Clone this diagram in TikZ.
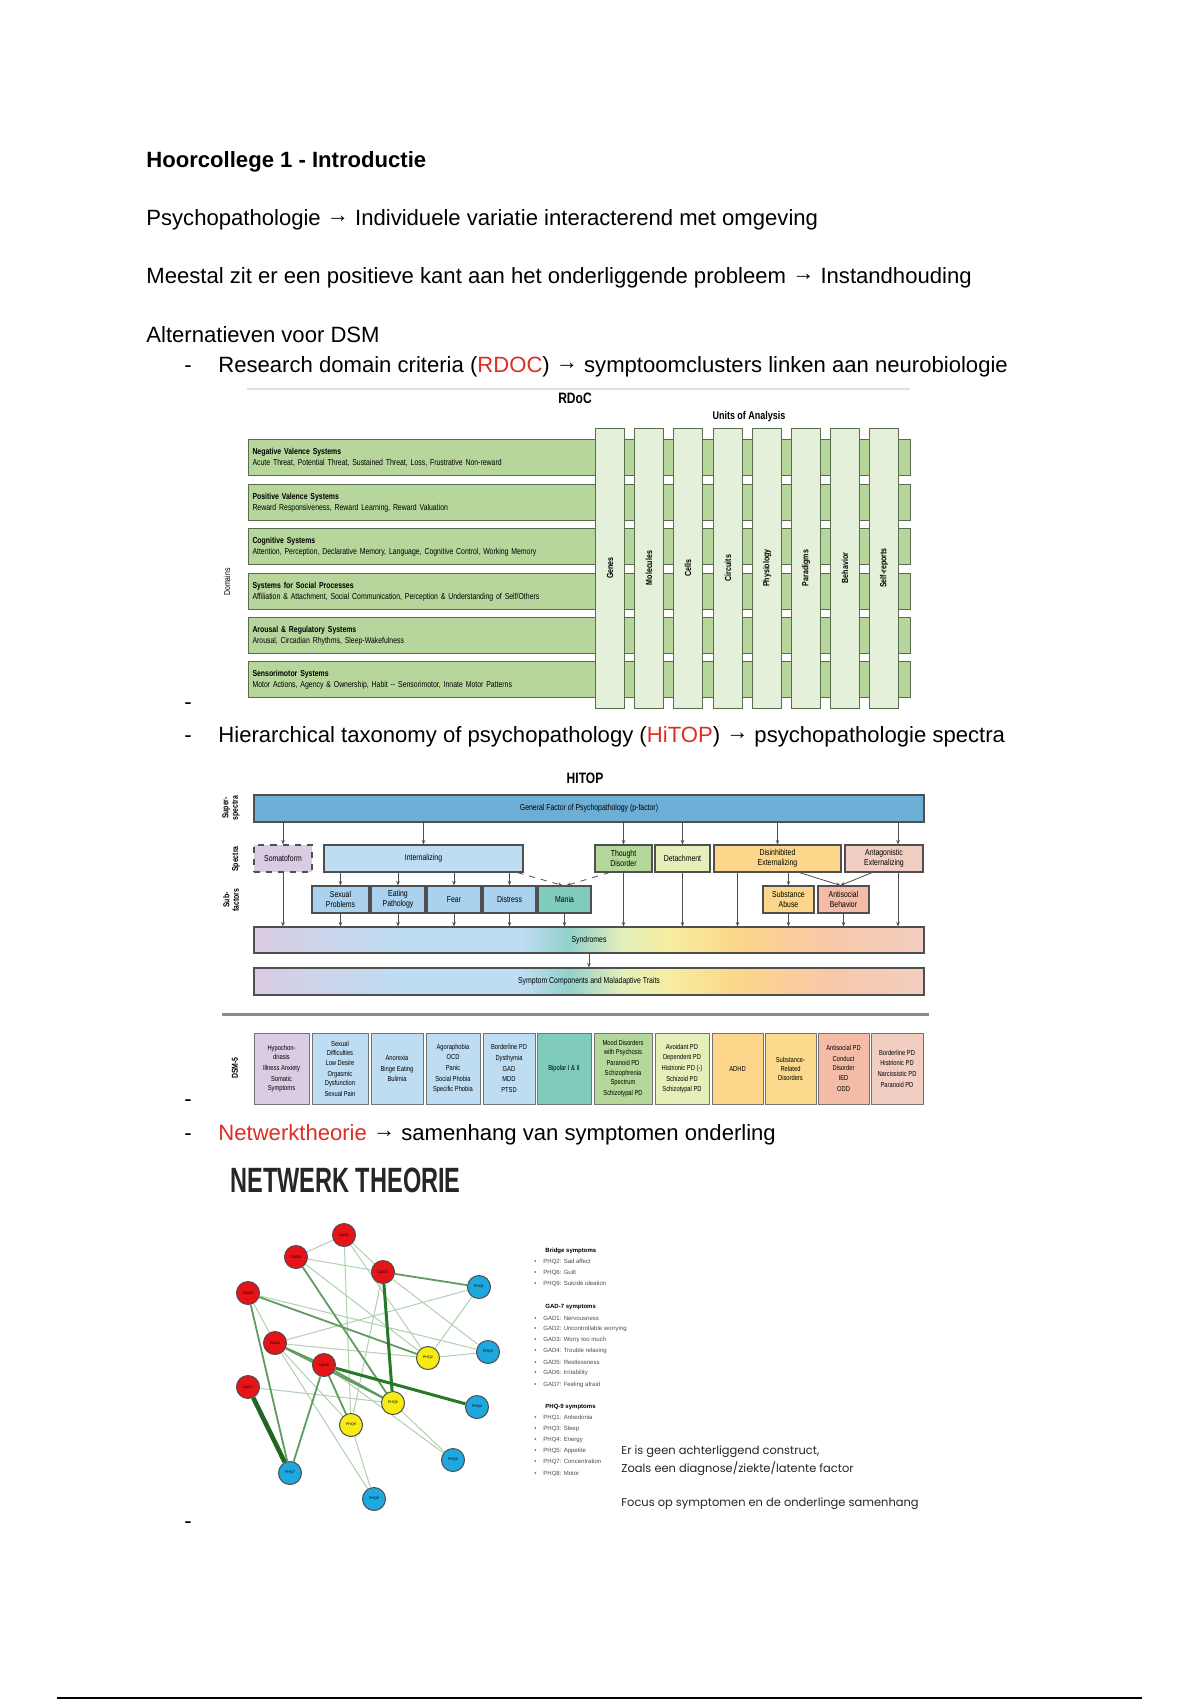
\documentclass[tikz,border=0pt]{standalone}
\usepackage{fontspec}
\setmainfont{Liberation Sans}
\newfontfamily\narrowfont[FakeStretch=0.8]{Liberation Sans}
\newfontfamily\titlefont[FakeStretch=0.67]{Liberation Sans}
\newfontfamily\roundfont{Poppins}
\usepackage{tikz}
\usetikzlibrary{positioning, shapes, arrows.meta, backgrounds}

\newcommand{\pxu}{0.0175cm}
\newcommand{\legdot}{\makebox[4.5pt][l]{\textbullet}}
\newcommand{\toarrow}{\raisebox{1.4pt}{→}}
\definecolor{textred}{RGB}{222,45,38}
\definecolor{rdocbar}{RGB}{182,214,156}
\definecolor{rdoccol}{RGB}{228,240,218}
\definecolor{rdocline}{RGB}{88,108,80}
\definecolor{hline}{RGB}{80,80,80}
\definecolor{hgen}{RGB}{108,174,214}
\definecolor{hlav}{RGB}{217,204,227}
\definecolor{hblue}{RGB}{190,221,242}
\definecolor{hsub}{RGB}{170,210,238}
\definecolor{hteal}{RGB}{128,204,186}
\definecolor{hgreen}{RGB}{180,216,154}
\definecolor{hlime}{RGB}{228,239,186}
\definecolor{hyellow}{RGB}{246,238,160}
\definecolor{horange}{RGB}{252,214,138}
\definecolor{hpeach}{RGB}{248,200,168}
\definecolor{hpink}{RGB}{242,206,194}
\definecolor{hsalmon}{RGB}{244,188,166}
\definecolor{netred}{RGB}{230,20,24}
\definecolor{netblue}{RGB}{30,168,224}
\definecolor{netyellow}{RGB}{246,236,20}
\definecolor{tiedark}{RGB}{40,120,40}
\definecolor{tiemid}{RGB}{96,156,96}
\definecolor{tielight}{RGB}{176,208,176}
\pgfdeclarehorizontalshading{hitopgrad}{100bp}{color(0bp)=(hlav); color(25bp)=(hlav); color(36bp)=(hblue); color(45bp)=(hblue); color(48.5bp)=(hteal!70!hblue); color(52.5bp)=(hlime); color(56bp)=(hyellow); color(61bp)=(horange); color(68bp)=(hpeach); color(75bp)=(hpink); color(100bp)=(hpink)}

\begin{document}
\begin{tikzpicture}[x=0.0175cm, y=-0.0175cm,
  body/.style={anchor=base west, inner sep=0, font=\fontsize{11}{13}\selectfont},
  domainbar/.style={draw=rdocline, fill=rdocbar, line width=0.5pt, anchor=north west, minimum height=36*\pxu, text width=654*\pxu, inner xsep=4*\pxu, inner ysep=0, align=left, font=\narrowfont\fontsize{4.3}{5.4}\selectfont},
  unitcol/.style={draw=rdocline, fill=rdoccol, line width=0.5pt, rotate=90, minimum width=280*\pxu, minimum height=29*\pxu, inner sep=0, font=\narrowfont\bfseries\fontsize{4.4}{5}\selectfont},
  hibox/.style={draw=hline, line width=0.6pt, minimum height=27*\pxu, inner sep=0, align=center, font=\narrowfont\fontsize{4.3}{5}\selectfont},
  harr/.style={-{Stealth[length=2.2pt, width=1.8pt]}, draw=hline, line width=0.4pt},
  dsmbox/.style={draw=hline!80, line width=0.5pt, minimum height=71*\pxu, inner sep=0, align=center, font=\narrowfont\fontsize{3.6}{4.5}\selectfont},
  rowlabel/.style={rotate=90, align=center, inner sep=0, font=\narrowfont\bfseries\fontsize{4.3}{4.8}\selectfont},
  gadnode/.style={circle, draw=black!70, line width=0.5pt, fill=netred, minimum size=23*\pxu, inner sep=0, font=\fontsize{1.8}{2}\selectfont},
  phqnode/.style={gadnode, fill=netblue},
  bridgenode/.style={gadnode, fill=netyellow},
  tiethin/.style={draw=tielight, line width=0.5pt},
  tiemed/.style={draw=tiemid, line width=0.9pt},
  tiethick/.style={draw=tiedark, line width=1.5pt},
  tieheavy/.style={draw=tiedark!85!black, line width=2.3pt},
  legtitle/.style={anchor=west, inner sep=0, font=\bfseries\fontsize{3}{3.5}\selectfont},
  legitem/.style={anchor=west, inner sep=0, text=black!70, font=\fontsize{3}{3.5}\selectfont},
  quoteline/.style={anchor=base west, inner sep=0, text=black!85, font=\roundfont\fontsize{5.7}{6.5}\selectfont}]

\useasboundingbox (0,0) rectangle (1200,1700);
\begin{pgfonlayer}{background}
\fill[white] (0,0) rectangle (1200,1700);
\end{pgfonlayer}

% text
\node[body, font=\bfseries\fontsize{11}{13}\selectfont] (title) at (146,167) {Hoorcollege 1 - Introductie};
\node[body] (psy) at (146,225) {Psychopathologie \toarrow{} Individuele variatie interacterend met omgeving};
\node[body] (meestal) at (146,283) {Meestal zit er een positieve kant aan het onderliggende probleem \toarrow{} Instandhouding};
\node[body] (alt) at (146,342) {Alternatieven voor DSM};
\node[body] (dash1) at (184,372) {-};
\node[body] (rdocitem) at (218,372) {Research domain criteria (\textcolor{textred}{RDOC}) \toarrow{} symptoomclusters linken aan neurobiologie};
\node[body] (dash2) at (184,709) {-};
\node[body] (dash3) at (184,742) {-};
\node[body] (hitopitem) at (218,742) {Hierarchical taxonomy of psychopathology (\textcolor{textred}{HiTOP}) \toarrow{} psychopathologie spectra};
\node[body] (dash4) at (184,1106) {-};
\node[body] (dash5) at (184,1140) {-};
\node[body] (netitem) at (218,1140) {\textcolor{textred}{Netwerktheorie} \toarrow{} samenhang van symptomen onderling};
\node[body] (dash6) at (184,1528) {-};

% RDoC
\draw[black!12, line width=1pt] (247,389) -- (910,389);
\node[font=\narrowfont\bfseries\fontsize{7.5}{9}\selectfont] (rdoc) at (575,398) {RDoC};
\node[font=\narrowfont\bfseries\fontsize{5.6}{7}\selectfont] (units) at (749,417) {Units of Analysis};
\node[rowlabel, font=\narrowfont\fontsize{4.3}{5}\selectfont] (domains) at (227,582) {Domains};
\node[domainbar] (neg) at (248,439) {{\bfseries Negative Valence Systems}\\Acute Threat, Potential Threat, Sustained Threat, Loss, Frustrative Non-reward};
\node[domainbar] (pos) at (248,484) {{\bfseries Positive Valence Systems}\\Reward Responsiveness, Reward Learning, Reward Valuation};
\node[domainbar] (cog) at (248,528) {{\bfseries Cognitive Systems}\\Attention, Perception, Declarative Memory, Language, Cognitive Control, Working Memory};
\node[domainbar] (soc) at (248,573) {{\bfseries Systems for Social Processes}\\Affiliation \& Attachment, Social Communication, Perception \& Understanding of Self/Others};
\node[domainbar] (aro) at (248,617) {{\bfseries Arousal \& Regulatory Systems}\\Arousal, Circadian Rhythms, Sleep-Wakefulness};
\node[domainbar] (sen) at (248,661) {{\bfseries Sensorimotor Systems}\\Motor Actions, Agency \& Ownership, Habit -- Sensorimotor, Innate Motor Patterns};
\node[unitcol] (genes) at (610,568) {Genes};
\node[unitcol] (molecules) at (649,568) {Molecules};
\node[unitcol] (cells) at (688,568) {Cells};
\node[unitcol] (circuits) at (728,568) {Circuits};
\node[unitcol] (physiology) at (767,568) {Physiology};
\node[unitcol] (paradigms) at (806,568) {Paradigms};
\node[unitcol] (behavior) at (845,568) {Behavior};
\node[unitcol] (selfreports) at (884,568) {Self-reports};

% HiTOP
\node[font=\narrowfont\bfseries\fontsize{7.5}{9}\selectfont] (hitop) at (585,778) {HITOP};
\node[rowlabel] (lsuper) at (231,808) {Super-\\spectra};
\node[rowlabel] (lspectra) at (236,859) {Spectra};
\node[rowlabel] (lsub) at (231,900) {Sub-\\factors};
\node[hibox, fill=hgen, minimum width=670*\pxu] (gen) at (589,808.5) {General Factor of Psychopathology (p-factor)};
\node[hibox, fill=hlav, dashed, line width=0.8pt, minimum width=58*\pxu] (som) at (283,858.5) {Somatoform};
\node[hibox, fill=hblue, minimum width=199*\pxu] (intl) at (423.5,858.5) {Internalizing};
\node[hibox, fill=hgreen, minimum width=57*\pxu] (thought) at (623.5,858.5) {Thought\\Disorder};
\node[hibox, fill=hlime, minimum width=55*\pxu] (detach) at (682.5,858.5) {Detachment};
\node[hibox, fill=horange, minimum width=127*\pxu] (disinh) at (777.5,858.5) {Disinhibited\\Externalizing};
\node[hibox, fill=hpink, minimum width=78*\pxu] (antag) at (884,858.5) {Antagonistic\\Externalizing};
\node[hibox, fill=hsub, minimum width=57*\pxu] (sexual) at (340.5,899.5) {Sexual\\Problems};
\node[hibox, fill=hsub, minimum width=54*\pxu] (eating) at (398,899.5) {Eating\\Pathology};
\node[hibox, fill=hsub, minimum width=54*\pxu] (fear) at (454,899.5) {Fear};
\node[hibox, fill=hsub, minimum width=53*\pxu] (distress) at (509.5,899.5) {Distress};
\node[hibox, fill=hteal, minimum width=53*\pxu] (mania) at (564.5,899.5) {Mania};
\node[hibox, fill=horange, minimum width=51*\pxu] (subst) at (788.5,899.5) {Substance\\Abuse};
\node[hibox, fill=hsalmon, minimum width=51*\pxu] (antis) at (843.5,899.5) {Antisocial\\Behavior};
\node[hibox, shade, shading=hitopgrad, minimum width=670*\pxu, minimum height=26*\pxu] (synd) at (589,940) {Syndromes};
\node[hibox, shade, shading=hitopgrad, minimum width=670*\pxu] (symp) at (589,981.5) {Symptom Components and Maladaptive Traits};
\draw[harr] (gen.south -| som.north) -- (som.north);
\draw[harr] (gen.south -| intl.north) -- (intl.north);
\draw[harr] (gen.south -| thought.north) -- (thought.north);
\draw[harr] (gen.south -| detach.north) -- (detach.north);
\draw[harr] (gen.south -| disinh.north) -- (disinh.north);
\draw[harr] ([xshift=14*\pxu]gen.south -| antag.north) -- ([xshift=14*\pxu]antag.north);
\draw[harr] (intl.south -| sexual.north) -- (sexual.north);
\draw[harr] (intl.south -| eating.north) -- (eating.north);
\draw[harr] (intl.south -| fear.north) -- (fear.north);
\draw[harr] (intl.south -| distress.north) -- (distress.north);
\draw[harr, dashed] ([xshift=-6*\pxu]intl.south east) -- ([xshift=-2*\pxu]mania.north);
\draw[harr, dashed] ([xshift=15*\pxu]thought.south west) -- ([xshift=2*\pxu]mania.north);
\draw[harr] (disinh.south -| subst.north) -- (subst.north);
\draw[harr] ([xshift=22*\pxu]disinh.south) -- ([xshift=-3*\pxu]antis.north);
\draw[harr] ([xshift=-12*\pxu]antag.south) -- ([xshift=-3*\pxu]antis.north);
\draw[harr] (som.south) -- (som.south |- synd.north);
\draw[harr] (sexual.south) -- (sexual.south |- synd.north);
\draw[harr] (eating.south) -- (eating.south |- synd.north);
\draw[harr] (fear.south) -- (fear.south |- synd.north);
\draw[harr] (distress.south) -- (distress.south |- synd.north);
\draw[harr] (mania.south) -- (mania.south |- synd.north);
\draw[harr] (thought.south) -- (thought.south |- synd.north);
\draw[harr] (detach.south) -- (detach.south |- synd.north);
\draw[harr] ([xshift=-40*\pxu]disinh.south) -- ([xshift=-40*\pxu]disinh.south |- synd.north);
\draw[harr] (subst.south) -- (subst.south |- synd.north);
\draw[harr] (antis.south) -- (antis.south |- synd.north);
\draw[harr] ([xshift=14*\pxu]antag.south) -- ([xshift=14*\pxu]antag.south |- synd.north);
\draw[harr] (synd.south) -- (symp.north);

% DSM-5
\draw[black!45, line width=1.5pt] (222,1014) -- (929,1014);
\node[rowlabel] (ldsm) at (235,1068) {DSM-5};
\node[dsmbox, fill=hlav, minimum width=55*\pxu] (d1) at (281.5,1068.5) {Hypochon-\\driasis\\[0.8pt]Illness Anxiety\\[0.8pt]Somatic\\Symptoms};
\node[dsmbox, fill=hblue, minimum width=56*\pxu] (d2) at (340,1068.5) {Sexual\\Difficulties\\[0.8pt]Low Desire\\[0.8pt]Orgasmic\\Dysfunction\\[0.8pt]Sexual Pain};
\node[dsmbox, fill=hblue, minimum width=52*\pxu] (d3) at (397,1068.5) {Anorexia\\[0.8pt]Binge Eating\\[0.8pt]Bulimia};
\node[dsmbox, fill=hblue, minimum width=54*\pxu] (d4) at (453,1068.5) {Agoraphobia\\[0.8pt]OCD\\[0.8pt]Panic\\[0.8pt]Social Phobia\\[0.8pt]Specific Phobia};
\node[dsmbox, fill=hblue, minimum width=52*\pxu] (d5) at (509,1068.5) {Borderline PD\\[0.8pt]Dysthymia\\[0.8pt]GAD\\[0.8pt]MDD\\[0.8pt]PTSD};
\node[dsmbox, fill=hteal, minimum width=54*\pxu] (d6) at (564,1068.5) {Bipolar I \& II};
\node[dsmbox, fill=hgreen, minimum width=58*\pxu] (d7) at (623,1068.5) {Mood Disorders\\with Psychosis\\[0.8pt]Paranoid PD\\[0.8pt]Schizophrenia\\Spectrum\\[0.8pt]Schizotypal PD};
\node[dsmbox, fill=hlime, minimum width=54*\pxu] (d8) at (682,1068.5) {Avoidant PD\\[0.8pt]Dependent PD\\[0.8pt]Histrionic PD (-)\\[0.8pt]Schizoid PD\\[0.8pt]Schizotypal PD};
\node[dsmbox, fill=horange, minimum width=51*\pxu] (d9) at (737.5,1068.5) {ADHD};
\node[dsmbox, fill=horange!85!hyellow, minimum width=51*\pxu] (d10) at (790.5,1068.5) {Substance-\\Related\\Disorders};
\node[dsmbox, fill=hsalmon, minimum width=51*\pxu] (d11) at (843.5,1068.5) {Antisocial PD\\[0.8pt]Conduct\\Disorder\\[0.8pt]IED\\[0.8pt]ODD};
\node[dsmbox, fill=hpink, minimum width=52*\pxu] (d12) at (897,1068.5) {Borderline PD\\[0.8pt]Histrionic PD\\[0.8pt]Narcissistic PD\\[0.8pt]Paranoid PD};

% Netwerk theorie
\node[anchor=base west, inner sep=0, text=black!85, font=\titlefont\bfseries\fontsize{17.5}{20}\selectfont] (nettitle) at (230,1192) {NETWERK THEORIE};
\node[gadnode] (gad1) at (344,1235) {GAD1};
\node[gadnode] (gad2) at (296,1257) {GAD2};
\node[gadnode] (gad3) at (383,1272) {GAD3};
\node[gadnode] (gad4) at (248,1293) {GAD4};
\node[gadnode] (gad5) at (275,1343) {GAD5};
\node[gadnode] (gad6) at (324,1365) {GAD6};
\node[gadnode] (gad7) at (248,1387) {GAD7};
\node[phqnode] (phq1) at (479,1287) {PHQ1};
\node[phqnode] (phq3) at (488,1352) {PHQ3};
\node[phqnode] (phq4) at (477,1407) {PHQ4};
\node[phqnode] (phq5) at (453,1460) {PHQ5};
\node[phqnode] (phq7) at (290,1473) {PHQ7};
\node[phqnode] (phq8) at (374,1499) {PHQ8};
\node[bridgenode] (phq2) at (428,1358) {PHQ2};
\node[bridgenode] (phq6) at (393,1403) {PHQ6};
\node[bridgenode] (phq9) at (351,1425) {PHQ9};
\begin{pgfonlayer}{background}
\draw[tiethin] (gad1) -- (phq9);
\draw[tiethin] (gad1) -- (gad3);
\draw[tiethin] (gad1) -- (gad2);
\draw[tiethin] (gad1) -- (phq2);
\draw[tiethin] (gad2) -- (gad3);
\draw[tiethin] (gad2) -- (phq2);
\draw[tiethin] (gad3) -- (phq9);
\draw[tiethin] (gad3) -- (phq3);
\draw[tiethin] (gad4) -- (gad5);
\draw[tiethin] (gad4) -- (phq3);
\draw[tiethin] (gad5) -- (phq2);
\draw[tiethin] (gad5) -- (phq1);
\draw[tiethin] (gad5) -- (phq8);
\draw[tiethin] (gad5) -- (phq9);
\draw[tiethin] (gad6) -- (phq5);
\draw[tiethin] (gad7) -- (phq6);
\draw[tiethin] (phq2) -- (phq3);
\draw[tiethin] (phq2) -- (phq1);
\draw[tiethin] (phq6) -- (phq5);
\draw[tiethin] (phq9) -- (phq8);
\draw[tiemed] (gad3) -- (phq1);
\draw[tiemed] (gad4) -- (phq7);
\draw[tiemed] (gad2) -- (phq6);
\draw[tiemed] (gad4) -- (phq2);
\draw[tiemed] (gad6) -- (phq7);
\draw[tiemed] (gad5) -- (gad6);
\draw[tiemed] (gad5) -- (phq6);
\draw[tiemed] (gad6) -- (phq9);
\draw[tiemed] (gad6) -- (phq6);
\draw[tiethick] (gad3) -- (phq6);
\draw[tiethick] (gad6) -- (phq4);
\draw[tieheavy] (gad7) -- (phq7);
\end{pgfonlayer}

% legenda
\node[legtitle] (lbridge) at (545,1251) {Bridge symptoms};
\node[legitem] (lb1) at (534,1262) {\legdot PHQ2: Sad affect};
\node[legitem] (lb2) at (534,1273) {\legdot PHQ6: Guilt};
\node[legitem] (lb3) at (534,1284) {\legdot PHQ9: Suicide ideation};
\node[legtitle] (lgad) at (545,1307) {GAD-7 symptoms};
\node[legitem] (lg1) at (534,1318) {\legdot GAD1: Nervousness};
\node[legitem] (lg2) at (534,1329) {\legdot GAD2: Uncontrollable worrying};
\node[legitem] (lg3) at (534,1340) {\legdot GAD3: Worry too much};
\node[legitem] (lg4) at (534,1351) {\legdot GAD4: Trouble relaxing};
\node[legitem] (lg5) at (534,1362) {\legdot GAD5: Restlessness};
\node[legitem] (lg6) at (534,1373) {\legdot GAD6: Irritability};
\node[legitem] (lg7) at (534,1385) {\legdot GAD7: Feeling afraid};
\node[legtitle] (lphq) at (545,1407) {PHQ-9 symptoms};
\node[legitem] (lp1) at (534,1418) {\legdot PHQ1: Anhedonia};
\node[legitem] (lp3) at (534,1429) {\legdot PHQ3: Sleep};
\node[legitem] (lp4) at (534,1440) {\legdot PHQ4: Energy};
\node[legitem] (lp5) at (534,1451) {\legdot PHQ5: Appetite};
\node[legitem] (lp7) at (534,1462) {\legdot PHQ7: Concentration};
\node[legitem] (lp8) at (534,1474) {\legdot PHQ8: Motor};
\node[quoteline] (q1) at (621,1454) {Er is geen achterliggend construct,};
\node[quoteline] (q2) at (621,1472) {Zoals een diagnose/ziekte/latente factor};
\node[quoteline] (q3) at (621,1506) {Focus op symptomen en de onderlinge samenhang};

\draw[line width=1.2pt] (57,1698) -- (1142,1698);
\end{tikzpicture}
\end{document}
